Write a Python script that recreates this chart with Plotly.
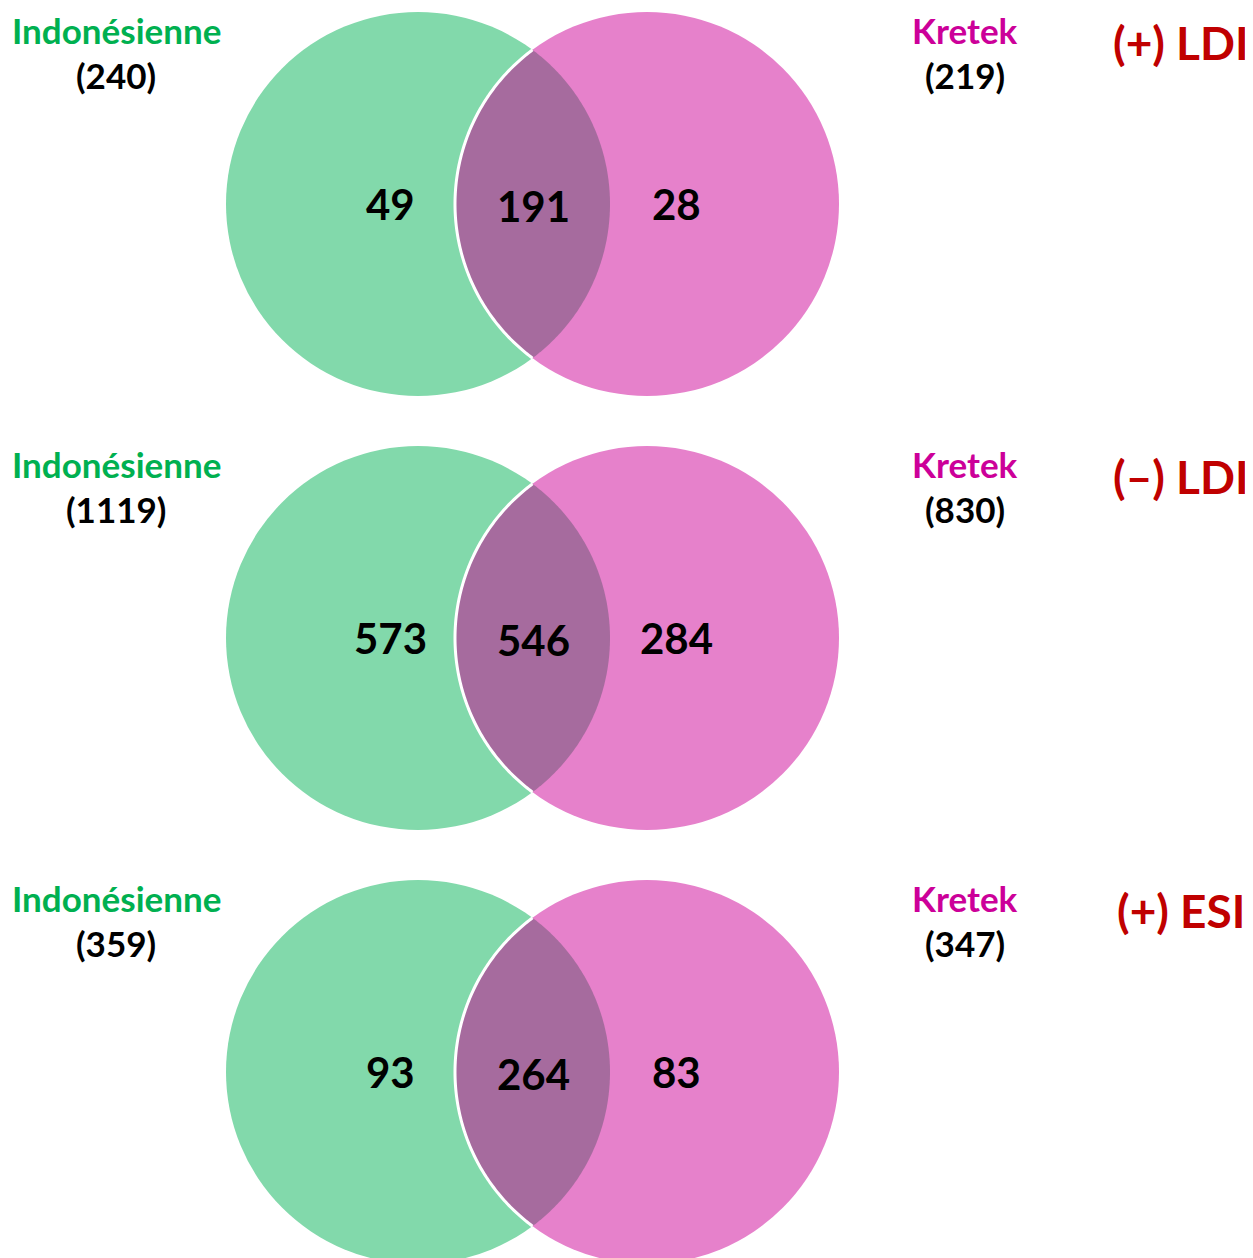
import numpy as np
import plotly.graph_objects as go

# ---- data ----
panel_labels = ["(+) LDI", "(\u2013) LDI", "(+) ESI"]
set_left_name = "Indonésienne"
set_right_name = "Kretek"
left_totals = [240, 1119, 359]
right_totals = [219, 830, 347]
left_only = [49, 573, 93]
both = [191, 546, 264]
right_only = [28, 284, 83]

# ---- layout / style ----
W, H = 1253, 1258
OFF = 8  # browser body margin
GREEN = "#82D9AB"
PINK = "#E681CB"
LENS = "#A66B9E"
C_GREEN_TXT = "#00B050"
C_PINK_TXT = "#CC0099"
C_RED_TXT = "#C00000"
FONT = "Lato"

R = 192
CXL, CXR = 418, 647
CY0 = 204
DY = 434

fig = go.Figure()
shapes = []
ann = []


def arc_pts(cx, cy, r, a0, a1, n=160):
    t = np.linspace(a0, a1, n)
    return cx + r * np.cos(t), cy + r * np.sin(t)


def path_from(xs, ys, close=True):
    s = "M " + " L ".join(f"{x:.2f},{y:.2f}" for x, y in zip(xs, ys))
    return s + (" Z" if close else "")


for i in range(len(panel_labels)):
    cy = CY0 + DY * i
    shapes.append(dict(type="circle", xref="x", yref="y", x0=CXL - R, x1=CXL + R,
                       y0=cy - R, y1=cy + R, fillcolor=GREEN, line=dict(width=0), layer="below"))
    shapes.append(dict(type="circle", xref="x", yref="y", x0=CXR - R, x1=CXR + R,
                       y0=cy - R, y1=cy + R, fillcolor=PINK, line=dict(width=0), layer="below"))
    d = CXR - CXL
    h = np.sqrt(R ** 2 - (d / 2) ** 2)
    a_top = np.arctan2(-h, -(d / 2))
    a_bot = np.arctan2(h, -(d / 2))
    xs1, ys1 = arc_pts(CXR, cy, R, a_bot, a_top + 2 * np.pi)  # bottom -> left -> top
    b_top = np.arctan2(-h, d / 2)
    b_bot = np.arctan2(h, d / 2)
    xs2, ys2 = arc_pts(CXL, cy, R, b_top, b_bot)
    shapes.append(dict(type="path", xref="x", yref="y",
                       path=path_from(np.concatenate([xs1, xs2]), np.concatenate([ys1, ys2])),
                       fillcolor=LENS, line=dict(width=0), layer="below"))
    shapes.append(dict(type="path", xref="x", yref="y",
                       path=path_from(xs1, ys1, close=False),
                       line=dict(color="white", width=3), layer="below"))

    for x, v, yo in [(390, left_only[i], 0), (533, both[i], 2), (676, right_only[i], 0)]:
        ann.append(dict(x=x, y=cy + yo, text=str(v), showarrow=False, xref="x", yref="y",
                        font=dict(family=FONT, size=42, color="black", weight="bold")))
    ty = 30 + DY * i
    ann.append(dict(x=116, y=ty, text=set_left_name, showarrow=False, xref="x", yref="y",
                    font=dict(family=FONT, size=35, color=C_GREEN_TXT, weight="bold")))
    ann.append(dict(x=116, y=ty + 45, text=f"({left_totals[i]})", showarrow=False, xref="x", yref="y",
                    font=dict(family=FONT, size=35, color="black", weight="bold")))
    ann.append(dict(x=965, y=ty, text=set_right_name, showarrow=False, xref="x", yref="y",
                    font=dict(family=FONT, size=35, color=C_PINK_TXT, weight="bold")))
    ann.append(dict(x=965, y=ty + 45, text=f"({right_totals[i]})", showarrow=False, xref="x", yref="y",
                    font=dict(family=FONT, size=35, color="black", weight="bold")))
    ann.append(dict(x=1181, y=ty + 12, text=panel_labels[i], showarrow=False, xref="x", yref="y",
                    font=dict(family=FONT, size=46, color=C_RED_TXT, weight="bold")))

fig.update_layout(
    width=W - OFF, height=H - OFF, margin=dict(l=0, r=0, t=0, b=0),
    paper_bgcolor="white", plot_bgcolor="white",
    xaxis=dict(range=[OFF, W], visible=False, fixedrange=True),
    yaxis=dict(range=[H, OFF], visible=False, fixedrange=True),
    shapes=shapes, annotations=ann, showlegend=False,
)
fig.write_html("out.html")
